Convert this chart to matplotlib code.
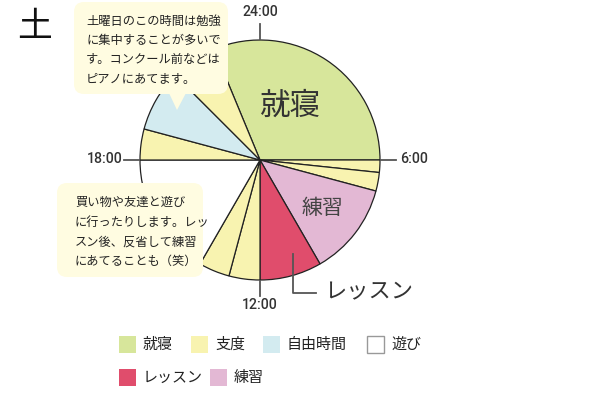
import matplotlib
matplotlib.use('Agg')
import matplotlib.pyplot as plt
from matplotlib.patches import FancyBboxPatch, Polygon, Rectangle
import numpy as np

plt.rcParams['font.family'] = ['Noto Sans CJK JP', 'DejaVu Sans']

# day schedule, clockwise from 22:30
start_hour = 22.5
slice_cats = ['就寝', '支度', '支度', '練習', 'レッスン', '支度', '支度', '遊び', '支度', '自由時間', '支度']
slice_hours = [7.5, 0.4, 0.6, 3, 2, 1, 1, 4, 1, 2, 1.5]

legend_cats = ['就寝', '支度', '自由時間', '遊び', 'レッスン', '練習']
cat_colors = {'就寝': '#d7e69b', '支度': '#f8f3b0', '自由時間': '#d3ebf0', '遊び': '#ffffff',
              'レッスン': '#e04d6c', '練習': '#e3b8d4'}

clock_hours = [0, 6, 12, 18]
clock_labels = ['24:00', '6:00', '12:00', '18:00']

note_top = '土曜日のこの時間は勉強\nに集中することが多いで\nす。コンクール前などは\nピアノにあてます。'
note_bottom = '買い物や友達と遊び\nに行ったりします。レッ\nスン後、反省して練習\nにあてることも（笑）'

W, H = 590, 393
fig = plt.figure(figsize=(W / 100, H / 100), dpi=100)

# pie axes: center (260,160) px, radius 120 px
cx, cy, r = 260, 160, 120
ax = fig.add_axes([(cx - r) / W, (H - cy - r) / H, 2 * r / W, 2 * r / H])
ax.pie(slice_hours, colors=[cat_colors[c] for c in slice_cats],
       startangle=90 + (24 - start_hour) * 15, counterclock=False, radius=1,
       wedgeprops=dict(edgecolor='#222222', linewidth=0.9))
ax.set_xlim(-1, 1)
ax.set_ylim(-1, 1)
ax.set_aspect('equal')
ax.axis('off')

# clock ticks
for h in clock_hours:
    a = np.deg2rad(90 - h * 15)
    ax.plot([np.cos(a) * 1.005, np.cos(a) * 1.13], [np.sin(a) * 1.005, np.sin(a) * 1.13],
            color='#555555', lw=1.3, clip_on=False)

ax.text(0.25, 0.45, '就寝', fontsize=22, color='#333333', ha='center', va='center')
ax.text(0.52, -0.4, '練習', fontsize=15, color='#444444', ha='center', va='center')

# overlay axes in pixel coords
ov = fig.add_axes([0, 0, 1, 1], zorder=3)
ov.set_xlim(0, W)
ov.set_ylim(H, 0)
ov.axis('off')

ov.text(35, 27, '土', fontsize=25, color='#111111', ha='center', va='center')

lab_pos = [(260, 12, 'center'), (400, 159, 'left'), (260, 305, 'center'), (123, 159, 'right')]
for lab, (x, y, ha) in zip(clock_labels, lab_pos):
    ov.text(x, y, lab, fontsize=10.2, color='#333333', ha=ha, va='center',
            family=['Roboto', 'DejaVu Sans'], fontweight='medium')

# lesson pointer
ov.plot([293, 293, 316], [254, 293, 293], color='#555555', lw=1.3)
ov.text(324, 292, 'レッスン', fontsize=16, color='#333333', ha='left', va='center')

box_fc = '#fffce1'
ov.add_patch(FancyBboxPatch((78, 6), 146, 84, boxstyle='round,pad=4,rounding_size=10',
                            fc=box_fc, ec='none'))
ov.add_patch(Polygon([[169, 93], [186, 93], [177, 110]], closed=True, fc=box_fc, ec='none'))
ov.text(86, 50, note_top, fontsize=8.8, color='#222222', ha='left', va='center', linespacing=1.65)

ov.add_patch(FancyBboxPatch((61, 187), 138, 86, boxstyle='round,pad=4,rounding_size=10',
                            fc=box_fc, ec='none'))
ov.text(75, 232, note_bottom, fontsize=8.8, color='#222222', ha='left', va='center', linespacing=1.65)

# legend
leg_pos = [(119, 336), (191, 336), (263, 336), (367, 336), (119, 369), (210, 369)]
for cat, (x, y) in zip(legend_cats, leg_pos):
    ec = '#999999' if cat == '遊び' else 'none'
    ov.add_patch(Rectangle((x, y), 17, 17, fc=cat_colors[cat], ec=ec, lw=1))
    ov.text(x + 24, y + 9, cat, fontsize=10.8, color='#222222', ha='left', va='center')

fig.savefig('out.png', dpi=100)
